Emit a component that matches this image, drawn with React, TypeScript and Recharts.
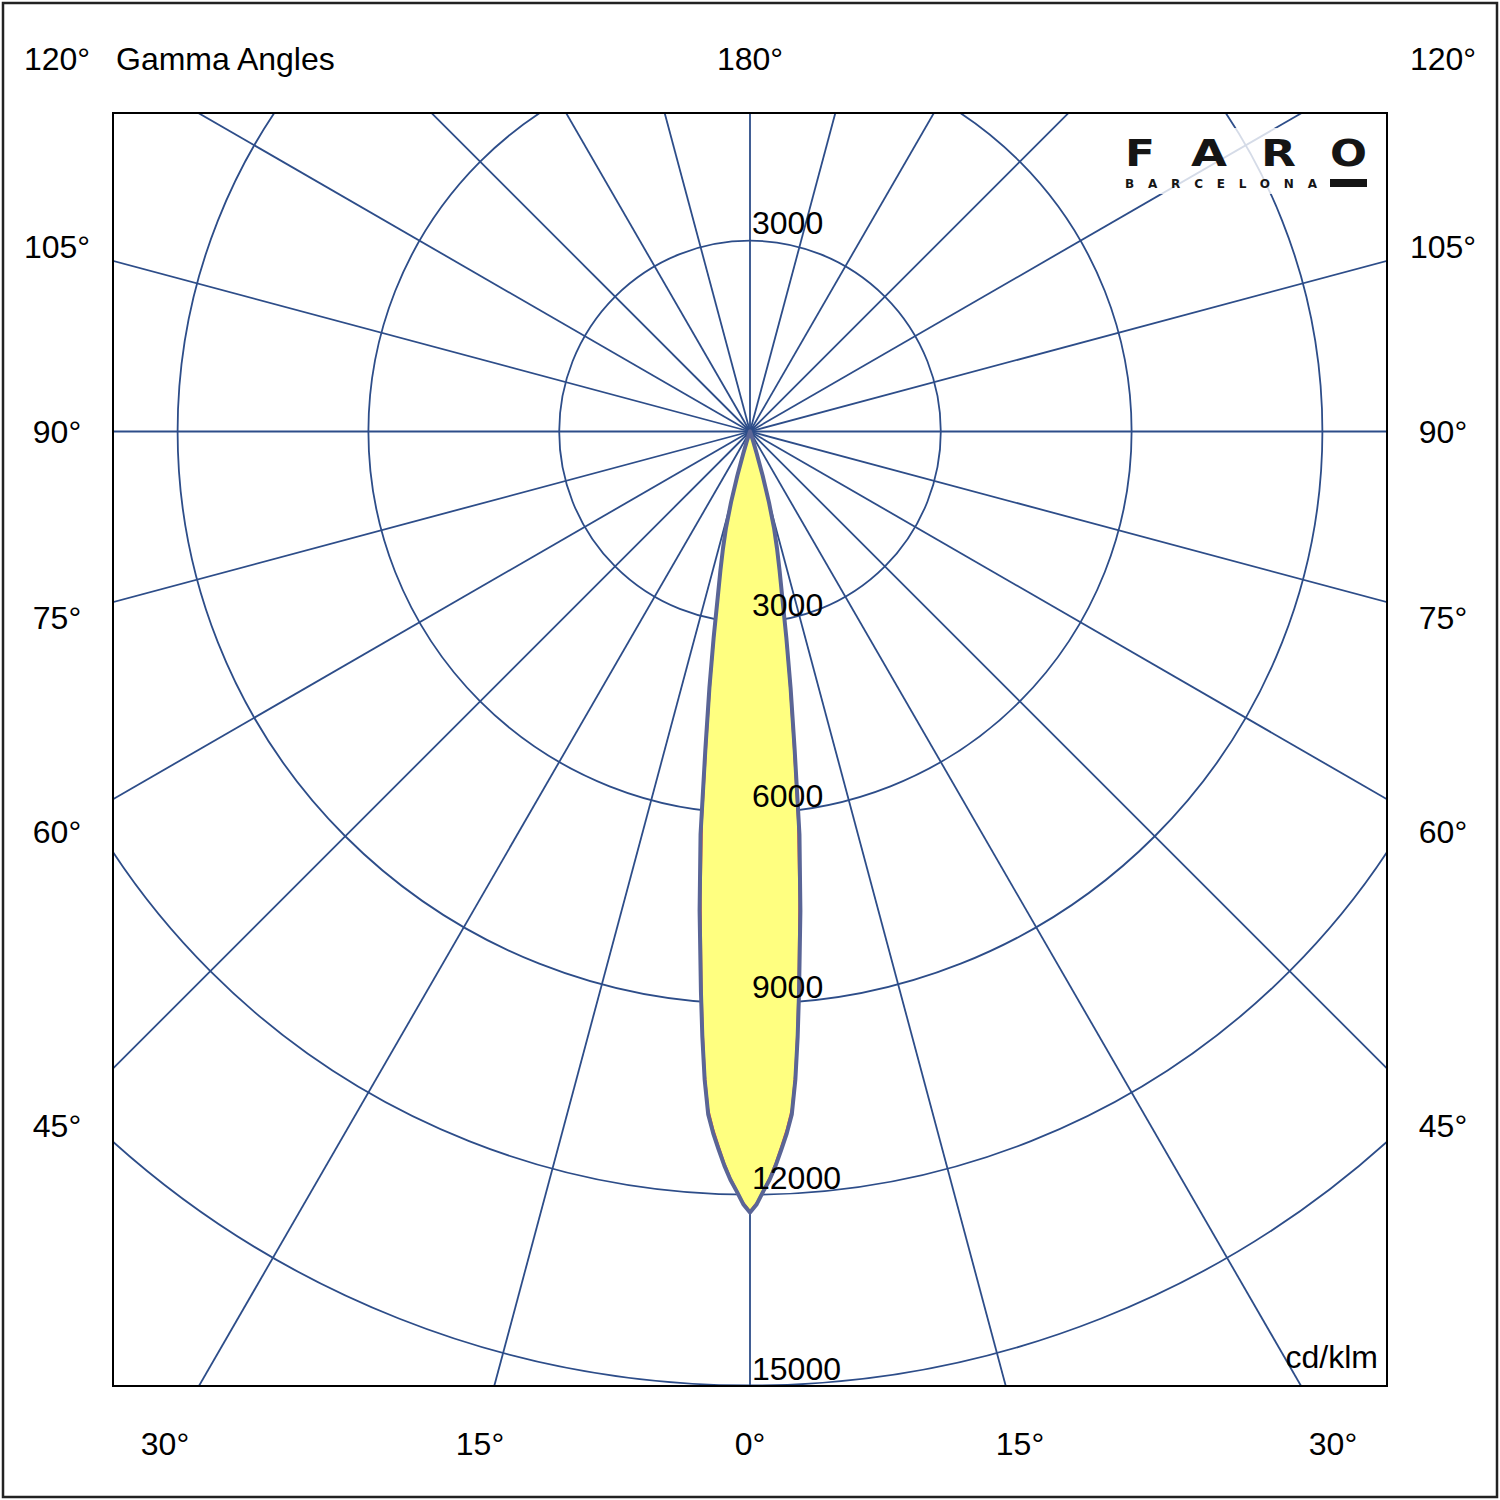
import React from "react"
import {
  RadarChart,
  Radar,
  PolarGrid,
  PolarAngleAxis,
  PolarRadiusAxis,
} from "recharts"

// Photometric polar diagram (cd/klm), gamma 0° pointing down.

// Gamma angles of the measured beam, negative = left half (C180), positive = right half (C0)
const gammaAngles = [
  -20, -19, -18, -17, -16, -15, -14, -13, -12, -11, -10, -9, -8, -7, -6, -5,
  -4.5, -4, -3.5, -3, -2.5, -2, -1.5, -1, -0.5, 0, 0.5, 1, 1.5, 2, 2.5, 3, 3.5, 4, 4.5,
  5, 6, 7, 8, 9, 10, 11, 12, 13, 14, 15, 16, 17, 18, 19, 20,
]

// C0-C180 plane, cd/klm
const c0c180Values = [
  0, 60, 160, 360, 720, 1150, 1560, 1890, 2240, 2660, 3290, 4080, 5040, 6380, 7580, 8850,
  9550, 10220, 10760, 11050, 11300, 11550, 11770, 11950, 12150, 12280, 12150, 11950, 11770,
  11550, 11300, 11050, 10760, 10220, 9550,
  8850, 7580, 6380, 5040, 4080, 3290, 2660, 2240, 1890, 1560, 1150, 720, 360, 160, 60, 0,
]

// C90-C270 plane, cd/klm
const c90c270Values = [
  0, 55, 150, 350, 700, 1120, 1520, 1840, 2180, 2580, 3180, 3930, 4850, 6150, 7380, 8700,
  9420, 10120, 10680, 10980, 11240, 11500, 11730, 11920, 12120, 12250, 12120, 11920, 11730,
  11500, 11240, 10980, 10680, 10120, 9420,
  8700, 7380, 6150, 4850, 3930, 3180, 2580, 2180, 1840, 1520, 1120, 700, 350, 150, 55, 0,
]

// grid: radial lines every 15°, rings every 3000 cd/klm
const gridAngles = [
  -180, -165, -150, -135, -120, -105, -90, -75, -60, -45, -30, -15,
  0, 15, 30, 45, 60, 75, 90, 105, 120, 135, 150, 165,
]
const ringValues = [3000, 6000, 9000, 12000, 15000]
// rings that are also labelled on the upper (180°) side
const topRingValues = [3000]

// frame labels
const sideLabels = ["120°", "105°", "90°", "75°", "60°", "45°"]
const sideLabelY = [58, 246, 431, 617, 831, 1125]
const bottomLabels = ["30°", "15°", "0°", "15°", "30°"]
const bottomLabelX = [165, 480, 750, 1020, 1333]

// logo letters
const logoLetters = ["F", "A", "R", "O"]
const logoLetterX = [1125, 1191, 1261, 1330]
const logoLetterW = [30, 36, 35, 37]

const data = gammaAngles.map((angle, i) => ({
  angle,
  c0: c0c180Values[i],
  c90: c90c270Values[i],
}))

const FONT = '"Liberation Sans", Arial, sans-serif'
const GRID = "#2d4d89"
const CY = 318.5

// ring label just above where the ring crosses the 0° line; 3000 also mirrored on the 180° line
const RingTick = (props: any) => {
  const cy = typeof props.cy === "number" ? props.cy : CY
  const v = props.payload.value
  return (
    <g>
      <text x={props.x + 2} y={props.y - 6} fontSize={32} fill="#000" fontFamily={FONT}>
        {v}
      </text>
      {topRingValues.includes(v) && (
        <text x={props.x + 2} y={2 * cy - props.y - 7} fontSize={32} fill="#000" fontFamily={FONT}>
          {v}
        </text>
      )}
    </g>
  )
}

export default function App() {
  return (
    <div
      style={{
        position: "absolute",
        left: 0,
        top: 0,
        width: 1500,
        height: 1500,
        background: "#fff",
        fontFamily: FONT,
      }}
    >
      {/* polar plot, clipped to the inner frame */}
      <div
        style={{
          position: "absolute",
          left: 113,
          top: 113,
          width: 1274,
          height: 1273,
          overflow: "hidden",
        }}
      >
        <RadarChart
          width={1274}
          height={1273}
          data={data}
          cx={637}
          cy={CY}
          innerRadius={0}
          outerRadius={1144.8}
          startAngle={90}
          endAngle={450}
          margin={{ top: 0, right: 0, bottom: 0, left: 0 }}
        >
          <PolarGrid gridType="circle" stroke={GRID} strokeWidth={1.8} />
          <PolarAngleAxis
            dataKey="angle"
            type="number"
            domain={[-180, 180]}
            ticks={gridAngles}
            tick={false}
            axisLine={false}
          />
          {/* fill first, then the C90 trace, then the C0 outline on top */}
          <Radar
            dataKey="c0"
            stroke="none"
            fill="#ffff80"
            fillOpacity={1}
            dot={false}
            isAnimationActive={false}
          />
          <Radar
            dataKey="c90"
            stroke="#e8483a"
            strokeWidth={1.4}
            fill="none"
            fillOpacity={0}
            dot={false}
            isAnimationActive={false}
          />
          <Radar
            dataKey="c0"
            stroke="#5a6596"
            strokeWidth={4}
            strokeLinejoin="round"
            fill="none"
            fillOpacity={0}
            dot={false}
            isAnimationActive={false}
          />
          <PolarRadiusAxis
            angle={-90}
            type="number"
            domain={[0, 18000]}
            ticks={ringValues}
            tick={RingTick}
            axisLine={false}
          />
        </RadarChart>
      </div>

      <svg
        width={1500}
        height={1500}
        style={{ position: "absolute", left: 0, top: 0, pointerEvents: "none" }}
        fontFamily={FONT}
      >
        <rect x={3} y={3} width={1494} height={1494} fill="none" stroke="#222" strokeWidth={2.5} />
        <rect x={113} y={113} width={1274} height={1273} fill="none" stroke="#000" strokeWidth={2} />

        {sideLabels.map((t, i) => (
          <text key={"l" + i} x={57} y={sideLabelY[i] + 11.5} fontSize={32} textAnchor="middle">
            {t}
          </text>
        ))}
        {sideLabels.map((t, i) => (
          <text key={"r" + i} x={1443} y={sideLabelY[i] + 11.5} fontSize={32} textAnchor="middle">
            {t}
          </text>
        ))}
        {bottomLabels.map((t, i) => (
          <text key={"b" + i} x={bottomLabelX[i]} y={1454.5} fontSize={32} textAnchor="middle">
            {t}
          </text>
        ))}
        <text x={750} y={69.5} fontSize={32} textAnchor="middle">
          180°
        </text>
        <text x={116} y={69.5} fontSize={32}>
          Gamma Angles
        </text>
        <text x={1378} y={1368} fontSize={32} textAnchor="end">
          cd/klm
        </text>

        {/* logo */}
        <rect x={1112} y={128} width={264} height={66} fill="#fff" opacity={0.8} />
        {logoLetters.map((t, i) => (
          <text
            key={"f" + i}
            x={logoLetterX[i]}
            y={166}
            fontSize={38}
            fontWeight="bold"
            fontFamily='"DejaVu Sans", sans-serif'
            textLength={logoLetterW[i]}
            lengthAdjust="spacingAndGlyphs"
            fill="#151515"
          >
            {t}
          </text>
        ))}
        <text
          x={1125}
          y={188}
          fontSize={12}
          fontWeight="bold"
          fontFamily='"DejaVu Sans", sans-serif'
          textLength={192}
          lengthAdjust="spacing"
          fill="#151515"
        >
          BARCELONA
        </text>
        <rect x={1330} y={179} width={37} height={8} fill="#151515" />
      </svg>
    </div>
  )
}
